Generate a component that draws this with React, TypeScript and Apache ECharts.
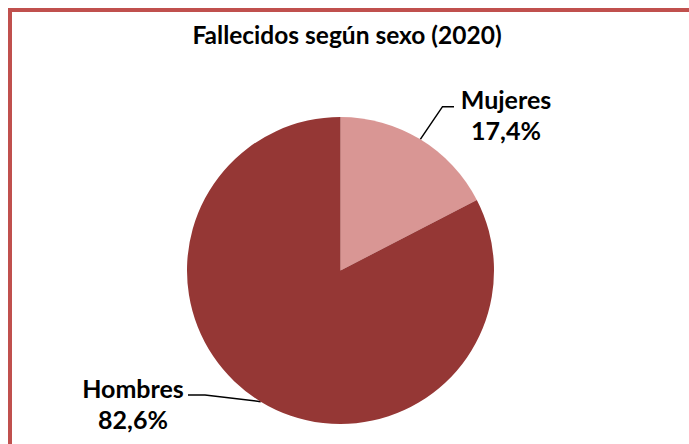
import React, { useEffect, useRef } from "react";
import * as echarts from "echarts";

const titleText = "Fallecidos según sexo (2020)";
const categories = ["Mujeres", "Hombres"];
const values = [17.4, 82.6];
const percentLabels = ["17,4%", "82,6%"];
const colors = ["#D99694", "#953735"];

const FONT = "Lato, 'Noto Sans', sans-serif";

export default function App() {
  const ref = useRef<HTMLDivElement>(null);
  useEffect(() => {
    if (!ref.current) return;
    const chart = echarts.init(ref.current, undefined, { renderer: "svg" });
    chart.setOption({
      animation: false,
      backgroundColor: "#ffffff",
      title: {
        text: titleText,
        left: 342,
        top: 17,
        textAlign: "center",
        textStyle: { fontFamily: FONT, fontWeight: "bold", fontSize: 24.5, color: "#000000" },
      },
      graphic: [
        {
          type: "rect",
          shape: { x: 10, y: 10, width: 720, height: 480 },
          style: { fill: "none", stroke: "#C0504D", lineWidth: 4 },
          silent: true,
        },
      ],
      series: [
        {
          type: "pie",
          center: [340.5, 270.5],
          radius: 153.5,
          startAngle: 90,
          clockwise: true,
          data: categories.map((c, i) => ({
            name: c,
            value: values[i],
            itemStyle: { color: colors[i] },
          })),
          label: {
            show: true,
            position: "outside",
            formatter: (p: any) => `${p.name}\n${percentLabels[p.dataIndex]}`,
            fontFamily: FONT,
            fontWeight: "bold",
            fontSize: 25,
            color: "#000000",
            lineHeight: 31,
            align: "center",
          },
          labelLine: {
            show: true,
            length: 20,
            length2: 15,
            lineStyle: { color: "#000000", width: 1.5 },
          },
          labelLayout: (params: any) => {
            const a = params.labelLinePoints ? params.labelLinePoints[0] : [0, 0];
            if (params.dataIndex === 0) {
              return {
                x: 506,
                y: 114,
                align: "center",
                verticalAlign: "middle",
                labelLinePoints: [a, [442.5, 106.7], [454, 106.7]],
              };
            }
            return {
              x: 133,
              y: 403,
              align: "center",
              verticalAlign: "middle",
              labelLinePoints: [a, [205, 395], [188, 395]],
            };
          },
        },
      ],
    });
    return () => chart.dispose();
  }, []);
  return (
    <div
      ref={ref}
      style={{ position: "fixed", left: 0, top: 0, width: 689, height: 444 }}
    />
  );
}
